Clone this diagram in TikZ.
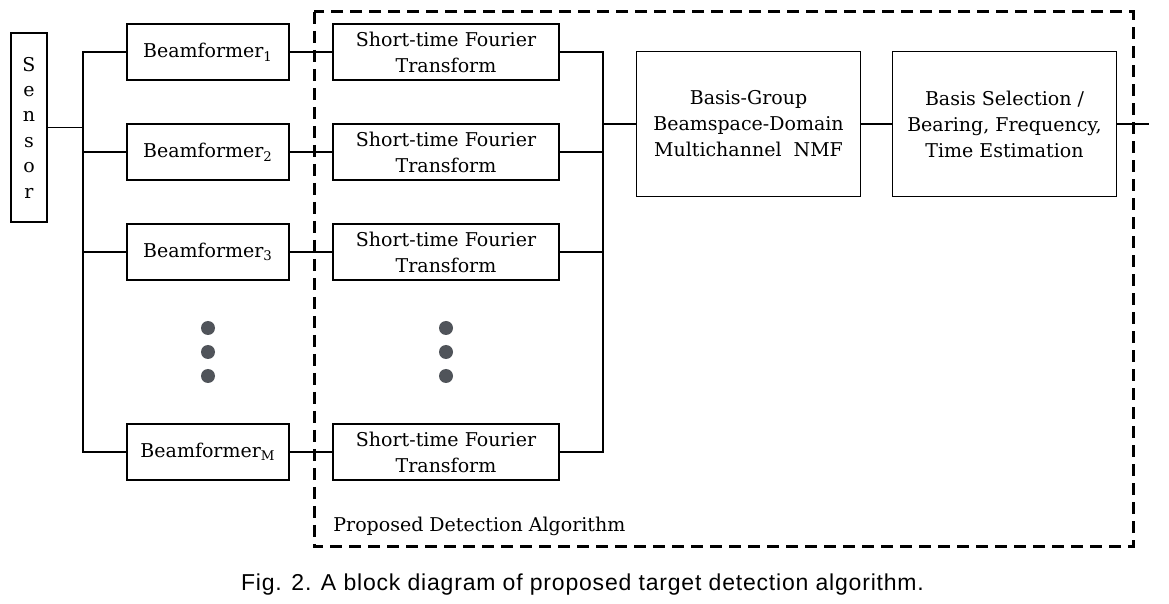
\documentclass[tikz,border=0pt]{standalone}
\usepackage{fontspec}
\setmainfont{DejaVu Serif}
\newfontfamily\capfont[LetterSpace=3.5]{Liberation Sans}
\usepackage{tikz}
\definecolor{dotgray}{RGB}{80,84,90}

\tikzset{
  blk/.style={draw,line width=0.6pt,inner sep=0pt,align=center,
    font=\fontsize{9.5}{13}\selectfont},
  bfbox/.style={blk,minimum width=81pt,minimum height=28pt},
  stbox/.style={blk,minimum width=113pt,minimum height=28pt},
  bigbox/.style={blk,minimum width=112pt,minimum height=72.5pt},
  vdot/.style={circle,fill=dotgray,inner sep=0pt,minimum size=7pt}
}

\begin{document}
\begin{tikzpicture}[x=0.5pt,y=-0.5pt]
\useasboundingbox (0,0) rectangle (1169,604);

	\begin{scope}
    \node[blk,minimum width=18pt,minimum height=94.5pt,
      font=\fontsize{9.5}{12.7}\selectfont] (sen) at (29,127.5) {S\\e\\n\\s\\o\\r};
    \node[bfbox] (bf1) at (208,52) {Beamformer\textsubscript{1}};
    \node[bfbox] (bf2) at (208,152) {Beamformer\textsubscript{2}};
    \node[bfbox] (bf3) at (208,252) {Beamformer\textsubscript{3}};
    \node[bfbox] (bfm) at (208,452) {Beamformer\textsubscript{M}};
    \node[stbox] (st1) at (446,52) {Short-time Fourier\\Transform};
    \node[stbox] (st2) at (446,152) {Short-time Fourier\\Transform};
    \node[stbox] (st3) at (446,252) {Short-time Fourier\\Transform};
    \node[stbox] (stm) at (446,452) {Short-time Fourier\\Transform};
    \node[bigbox] (nmf) at (748.5,124) {Basis-Group\\Beamspace-Domain\\Multichannel~~NMF};
    \node[bigbox] (sel) at (1004.5,124) {Basis Selection /\\Bearing, Frequency,\\Time Estimation};
	\end{scope}

	% vertical dots
	\foreach \y [count=\i] in {328,352,376} {
    \node[vdot] (dl\i) at (208,\y) {};
    \node[vdot] (dr\i) at (446,\y) {};
	}

	% proposed part
	\draw[line width=1.5pt,dash pattern=on 6pt off 3.5pt] (314,12) rectangle (1133,547);
	\node[anchor=west,font=\fontsize{9.5}{13}\selectfont,inner sep=0pt] (pda) at (333,526) {Proposed Detection Algorithm};

	\begin{scope}[line width=0.6pt]
    \coordinate (lj) at (83,127.5);
    \coordinate (rj) at (603,124);
    \coordinate (out) at (1149,124);
    \draw (sen.east) -- (lj);
    \draw (bf1.west) -| (lj);
    \draw (bfm.west) -| (lj);
    \draw (bf2.west) -- (bf2.west -| lj);
    \draw (bf3.west) -- (bf3.west -| lj);
    \foreach \r in {1,2,3,m} {
      \draw (bf\r.east) -- (st\r.west);
    }
    \draw (st1.east) -| (rj);
    \draw (stm.east) -| (rj);
    \draw (st2.east) -- (st2.east -| rj);
    \draw (st3.east) -- (st3.east -| rj);
    \draw (rj) -- (nmf.west);
    \draw (nmf.east) -- (sel.west);
    \draw (sel.east) -- (out);
	\end{scope}

	\node[font=\capfont\fontsize{11.5}{13}\selectfont] (cap) at (582.5,585)
    {Fig. 2. A block diagram of proposed target detection algorithm.};
\end{tikzpicture}
\end{document}
